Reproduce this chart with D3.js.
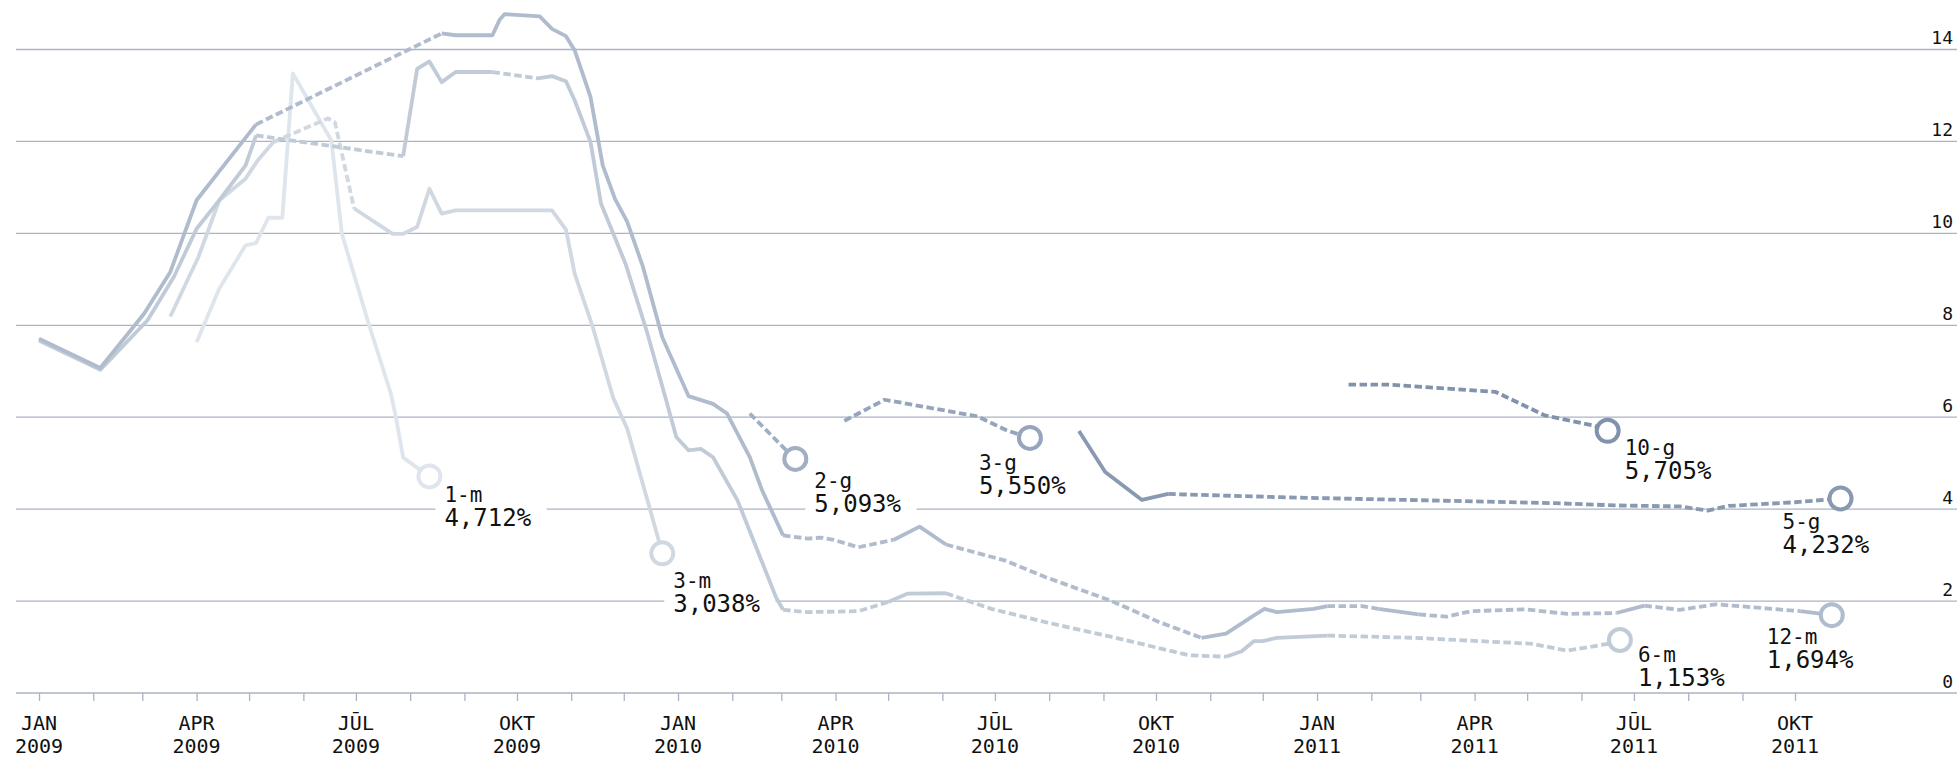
<!DOCTYPE html>
<html lang="lv">
<head>
<meta charset="UTF-8">
<title>Procentu likmes</title>
<script src="https://cdnjs.cloudflare.com/ajax/libs/d3/7.8.5/d3.min.js"></script>
<style>
    body { margin: 0; background: #fff; }
    svg text { font-family: "DejaVu Sans Mono", monospace; fill: #111; }
</style>
</head>
<body>
<svg id="chart" width="1960" height="757"></svg>
<script>
    // point = [date, value, how the piece leading to it is drawn: "s" solid, "d" dashed]
    const m1 = [
        ["2009-04-01", 7.63, "s"], ["2009-04-14", 8.8, "s"], ["2009-04-29", 9.74, "s"],
        ["2009-05-05", 9.79, "s"], ["2009-05-12", 10.34, "s"], ["2009-05-20", 10.34, "s"],
        ["2009-05-26", 13.48, "s"], ["2009-06-17", 12.02, "s"], ["2009-06-23", 9.99, "s"],
        ["2009-07-08", 8.07, "s"], ["2009-07-21", 6.51, "s"], ["2009-07-24", 5.97, "s"],
        ["2009-07-28", 5.12, "s"], ["2009-08-12", 4.712, "s"]
    ];
    const m3 = [
        ["2009-03-17", 8.19, "s"], ["2009-04-02", 9.48, "s"], ["2009-04-14", 10.72, "s"],
        ["2009-04-29", 11.19, "s"], ["2009-05-06", 11.59, "s"], ["2009-05-15", 11.99, "s"],
        ["2009-06-15", 12.5, "d"], ["2009-06-19", 12.42, "d"], ["2009-06-30", 10.54, "d"],
        ["2009-07-22", 9.99, "s"], ["2009-07-28", 9.99, "s"], ["2009-08-05", 10.14, "s"],
        ["2009-08-12", 10.97, "s"], ["2009-08-19", 10.43, "s"], ["2009-08-27", 10.5, "s"],
        ["2009-10-21", 10.5, "s"], ["2009-10-29", 10.08, "s"], ["2009-11-03", 9.12, "s"],
        ["2009-11-13", 8.0, "s"], ["2009-11-25", 6.42, "s"], ["2009-12-03", 5.75, "s"],
        ["2009-12-21", 3.32, "s"], ["2009-12-23", 3.038, "s"]
    ];
    const m6 = [
        ["2009-01-01", 7.67, "s"], ["2009-02-05", 7.03, "s"], ["2009-03-04", 8.11, "s"],
        ["2009-03-19", 9.05, "s"], ["2009-04-01", 10.1, "s"], ["2009-04-14", 10.72, "s"],
        ["2009-04-29", 11.48, "s"], ["2009-05-05", 12.13, "s"], ["2009-07-28", 11.68, "d"],
        ["2009-08-05", 13.58, "s"], ["2009-08-12", 13.74, "s"], ["2009-08-19", 13.29, "s"],
        ["2009-08-27", 13.51, "s"], ["2009-09-17", 13.51, "s"], ["2009-10-13", 13.37, "d"],
        ["2009-10-21", 13.42, "s"], ["2009-10-29", 13.31, "s"], ["2009-11-03", 12.89, "s"],
        ["2009-11-12", 11.99, "s"], ["2009-11-18", 10.65, "s"], ["2009-12-02", 9.34, "s"],
        ["2009-12-14", 7.89, "s"], ["2009-12-25", 6.4, "s"], ["2009-12-31", 5.57, "s"],
        ["2010-01-07", 5.28, "s"], ["2010-01-14", 5.31, "s"], ["2010-01-21", 5.13, "s"],
        ["2010-02-04", 4.19, "s"], ["2010-02-26", 2.08, "s"], ["2010-03-02", 1.81, "s"],
        ["2010-03-16", 1.76, "d"], ["2010-04-14", 1.78, "d"], ["2010-05-01", 1.98, "d"],
        ["2010-05-12", 2.16, "s"], ["2010-06-03", 2.17, "s"], ["2010-06-29", 1.83, "d"],
        ["2010-07-30", 1.54, "d"], ["2010-09-07", 1.21, "d"], ["2010-10-20", 0.82, "d"],
        ["2010-11-10", 0.79, "d"], ["2010-11-19", 0.91, "s"], ["2010-11-26", 1.13, "s"],
        ["2010-12-01", 1.13, "s"], ["2010-12-09", 1.2, "s"], ["2011-01-07", 1.25, "s"],
        ["2011-02-26", 1.2, "d"], ["2011-05-04", 1.07, "d"], ["2011-05-24", 0.92, "d"],
        ["2011-06-16", 1.07, "d"], ["2011-06-23", 1.153, "d"]
    ];
    const m12 = [
        ["2009-01-01", 7.71, "s"], ["2009-02-05", 7.07, "s"], ["2009-03-02", 8.25, "s"],
        ["2009-03-17", 9.16, "s"], ["2009-04-01", 10.72, "s"], ["2009-05-05", 12.37, "s"],
        ["2009-08-19", 14.35, "d"], ["2009-08-27", 14.31, "s"], ["2009-09-17", 14.31, "s"],
        ["2009-09-21", 14.64, "s"], ["2009-09-24", 14.77, "s"], ["2009-10-14", 14.72, "s"],
        ["2009-10-21", 14.45, "s"], ["2009-10-29", 14.29, "s"], ["2009-11-03", 13.98, "s"],
        ["2009-11-12", 12.97, "s"], ["2009-11-19", 11.48, "s"], ["2009-11-26", 10.75, "s"],
        ["2009-12-03", 10.25, "s"], ["2009-12-12", 9.27, "s"], ["2009-12-23", 7.74, "s"],
        ["2010-01-07", 6.46, "s"], ["2010-01-21", 6.29, "s"], ["2010-01-29", 6.08, "s"],
        ["2010-02-11", 5.13, "s"], ["2010-02-18", 4.41, "s"], ["2010-03-02", 3.43, "s"],
        ["2010-03-16", 3.36, "d"], ["2010-03-24", 3.38, "d"], ["2010-03-31", 3.33, "d"],
        ["2010-04-14", 3.17, "d"], ["2010-05-04", 3.33, "d"], ["2010-05-19", 3.62, "s"],
        ["2010-06-03", 3.23, "s"], ["2010-07-07", 2.88, "d"], ["2010-07-30", 2.52, "d"],
        ["2010-09-05", 2.01, "d"], ["2010-10-03", 1.54, "d"], ["2010-10-27", 1.2, "d"],
        ["2010-11-10", 1.29, "s"], ["2010-11-26", 1.69, "s"], ["2010-12-02", 1.83, "s"],
        ["2010-12-09", 1.76, "s"], ["2010-12-30", 1.83, "s"], ["2011-01-07", 1.89, "s"],
        ["2011-01-27", 1.89, "d"], ["2011-02-05", 1.83, "d"], ["2011-02-28", 1.71, "s"],
        ["2011-03-16", 1.66, "d"], ["2011-03-30", 1.78, "d"], ["2011-04-30", 1.82, "d"],
        ["2011-05-24", 1.72, "d"], ["2011-06-21", 1.74, "d"], ["2011-07-07", 1.9, "s"],
        ["2011-07-27", 1.81, "d"], ["2011-08-17", 1.93, "d"], ["2011-10-04", 1.78, "d"],
        ["2011-10-22", 1.694, "s"]
    ];
    const y2 = [
        ["2010-02-11", 6.08, "d"], ["2010-03-02", 5.35, "d"], ["2010-03-09", 5.093, "d"]
    ];
    const y3 = [
        ["2010-04-06", 5.92, "d"], ["2010-04-29", 6.38, "d"], ["2010-06-21", 6.02, "d"],
        ["2010-07-08", 5.71, "d"], ["2010-07-21", 5.55, "d"]
    ];
    const y5 = [
        ["2010-08-18", 5.7, "s"], ["2010-09-02", 4.81, "s"], ["2010-09-23", 4.2, "s"],
        ["2010-10-08", 4.33, "s"], ["2010-12-11", 4.26, "d"], ["2011-05-17", 4.13, "d"],
        ["2011-06-21", 4.08, "d"], ["2011-07-27", 4.06, "d"], ["2011-08-12", 3.97, "d"],
        ["2011-08-24", 4.07, "d"], ["2011-10-01", 4.15, "d"], ["2011-10-27", 4.232, "d"]
    ];
    const y10 = [
        ["2011-01-19", 6.71, "d"], ["2011-02-10", 6.71, "d"], ["2011-04-13", 6.55, "d"],
        ["2011-04-19", 6.44, "d"], ["2011-05-11", 6.04, "d"], ["2011-06-08", 5.82, "d"],
        ["2011-06-16", 5.705, "d"]
    ];

    const seriesNames = ["1-m", "3-m", "6-m", "12-m", "2-g", "3-g", "5-g", "10-g"];
    const seriesData = [m1, m3, m6, m12, y2, y3, y5, y10];
    const seriesColors = ["#dfe5ec", "#d0d8e2", "#c1cbd8", "#b0bccd", "#a2afc3", "#96a5bb", "#8999b2", "#8292ac"];
    // label placement next to the end circle: [dx, dy of first line]
    const labelOffsets = [[15, 26], [11, 35], [18, 22], [-65, 29], [19, 29], [-51, 32], [-58, 31], [17, 24]];

    const yTicks = [0, 2, 4, 6, 8, 10, 12, 14];
    const monthNames = ["JAN", "APR", "JŪL", "OKT"];

    const svg = d3.select("#chart");
    const parse = d3.timeParse("%Y-%m-%d");
    const lv = d3.formatLocale({decimal: ",", thousands: " ", grouping: [3], currency: ["", "€"]});
    const fmt = lv.format(".3f");

    const x = d3.scaleTime()
        .domain([new Date(2009, 0, 1), new Date(2011, 9, 1)])
        .range([39, 1795]);
    const y = d3.scaleLinear()
        .domain([0, 14])
        .range([693, 49.5]);

    const gridLeft = 16, gridRight = 1957;

    // horizontal grid + right labels
    const grid = svg.append("g");
    grid.selectAll("line")
        .data(yTicks)
        .enter()
        .append("line")
        .attr("x1", gridLeft)
        .attr("x2", gridRight)
        .attr("y1", d => y(d))
        .attr("y2", d => y(d))
        .attr("stroke", "#aab4c5")
        .attr("stroke-width", 1.3);
    grid.selectAll("text")
        .data(yTicks)
        .enter()
        .append("text")
        .attr("x", 1953)
        .attr("y", d => y(d) - 5.5)
        .attr("text-anchor", "end")
        .style("font-size", "18px")
        .text(d => d);

    // bottom month ticks
    const months = d3.timeMonth.range(new Date(2009, 0, 1), new Date(2011, 9, 2));
    const xAxis = svg.append("g")
        .attr("transform", "translate(0,693)")
        .call(d3.axisBottom(x).tickValues(months).tickSize(8).tickSizeOuter(0).tickFormat(""));
    xAxis.select(".domain").remove();
    xAxis.selectAll(".tick line").attr("stroke", "#aab4c5").attr("stroke-width", 1.3);

    const quarterLabels = months.filter(d => d.getMonth() % 3 === 0);
    const xl = svg.append("g").selectAll("text")
        .data(quarterLabels)
        .enter()
        .append("text")
        .attr("text-anchor", "middle")
        .style("font-size", "20px");
    xl.append("tspan")
        .attr("x", d => x(d))
        .attr("y", 730)
        .text(d => monthNames[d.getMonth() / 3]);
    xl.append("tspan")
        .attr("x", d => x(d))
        .attr("y", 753)
        .text(d => d.getFullYear());

    // split each series into solid and dashed runs
    function pieces(points) {
        const out = [];
        for (let i = 1; i < points.length; i++) {
            const kind = points[i][2];
            const last = out[out.length - 1];
            if (last && last.kind === kind) last.pts.push(points[i]);
            else out.push({kind: kind, pts: [points[i - 1], points[i]]});
        }
        return out;
    }

    const line = d3.line()
        .x(d => x(parse(d[0])))
        .y(d => y(d[1]));

    // label backgrounds go under the lines, so they only hide the grid
    const labelBg = svg.append("g");
    const lines = svg.append("g");
    const ends = svg.append("g");

    seriesData.forEach((data, i) => {
        lines.append("g")
            .selectAll("path")
            .data(pieces(data))
            .enter()
            .append("path")
            .attr("d", d => line(d.pts))
            .attr("fill", "none")
            .attr("stroke", seriesColors[i])
            .attr("stroke-width", 3.8)
            .attr("stroke-linejoin", "round")
            .attr("stroke-dasharray", d => d.kind === "d" ? "7.5,3.5" : null);
    });

    // end circles and labels
    seriesData.forEach((data, i) => {
        const last = data[data.length - 1];
        const cx = x(parse(last[0])), cy = y(last[1]);
        const tx = cx + labelOffsets[i][0], ty = cy + labelOffsets[i][1];
        const valueText = fmt(last[1]) + "%";

        ends.append("circle")
            .attr("cx", cx)
            .attr("cy", cy)
            .attr("r", 11)
            .attr("fill", "#fff")
            .attr("stroke", seriesColors[i])
            .attr("stroke-width", 4);

        const t = ends.append("text");
        t.append("tspan")
            .attr("x", tx)
            .attr("y", ty)
            .style("font-size", "21px")
            .text(seriesNames[i]);
        t.append("tspan")
            .attr("x", tx)
            .attr("y", ty + 24)
            .style("font-size", "24px")
            .text(valueText);
        const box = t.node().getBBox();
        labelBg.append("rect")
            .attr("fill", "#fff")
            .attr("x", box.x - 9)
            .attr("y", ty - 17)
            .attr("width", box.width + 24)
            .attr("height", 46);
    });
</script>
</body>
</html>
